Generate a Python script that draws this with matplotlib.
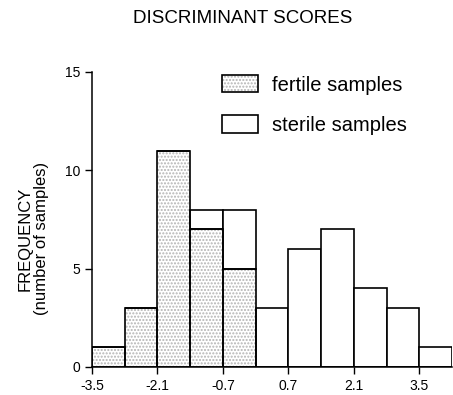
import matplotlib
matplotlib.use("Agg")
import matplotlib.pyplot as plt
from matplotlib.patches import Patch
from matplotlib.legend_handler import HandlerTuple

plt.rcParams['font.family'] = ['Liberation Sans', 'DejaVu Sans']

# bin left edges (discriminant score), width 0.7
bin_left = [-3.5, -2.8, -2.1, -1.4, -0.7, 0.0, 0.7, 1.4, 2.1, 2.8, 3.5]
bin_width = 0.7
fertile = [1, 3, 11, 7, 5, 0, 0, 0, 0, 0, 0]
sterile = [0, 0, 0, 1, 3, 3, 6, 7, 4, 3, 1]
xticks = [-3.5, -2.1, -0.7, 0.7, 2.1, 3.5]
yticks = [0, 5, 10, 15]

stipple = '.....'
stipple_col = '#b4b4b4'

fig = plt.figure(figsize=(4.53, 3.95), dpi=100)
ax = fig.add_axes([0.203, 0.071, 0.795, 0.747])

# fertile: stippled fill, then black outline
ax.bar(bin_left, fertile, width=bin_width, align='edge', color='white',
       hatch=stipple, edgecolor=stipple_col, linewidth=0)
# sterile stacked on top, plain white
ax.bar(bin_left, sterile, width=bin_width, align='edge', bottom=fertile,
       color='white', edgecolor='black', linewidth=1.2)
# fertile outlines last so shared edges stay crisp
ax.bar(bin_left, fertile, width=bin_width, align='edge', fill=False,
       edgecolor='black', linewidth=1.2)

ax.set_xlim(-3.5, 4.2)
ax.set_ylim(0, 15)
ax.set_xticks(xticks)
ax.set_xticklabels([f"{t:g}" for t in xticks])
ax.set_yticks(yticks)
ax.tick_params(axis='both', direction='out', length=5, width=1, labelsize=10)
for s in ['top', 'right']:
    ax.spines[s].set_visible(False)
for s in ['left', 'bottom']:
    ax.spines[s].set_linewidth(1.1)

ax.set_ylabel("FREQUENCY\n(number of samples)", fontsize=12, linespacing=1.1)
ax.yaxis.set_label_coords(-0.12, 0.435)

fig.text(0.536, 0.953, "DISCRIMINANT SCORES", ha='center', va='center',
         fontsize=13.5)

h_fert = (Patch(facecolor='white', hatch=stipple, edgecolor=stipple_col, linewidth=0),
          Patch(fill=False, edgecolor='black', linewidth=1.2))
h_ster = Patch(facecolor='white', edgecolor='black', linewidth=1.2)
ax.legend([h_fert, h_ster], ["fertile samples", "sterile samples"],
          handler_map={tuple: HandlerTuple(ndivide=1, pad=0)},
          loc='upper left', bbox_to_anchor=(222 / 453, 1 - 75 / 395),
          bbox_transform=fig.transFigure, frameon=False, fontsize=14.5,
          handlelength=1.8, handleheight=0.95, handletextpad=0.7,
          labelspacing=1.03, borderpad=0, borderaxespad=0)

fig.savefig("out.png", dpi=100)
